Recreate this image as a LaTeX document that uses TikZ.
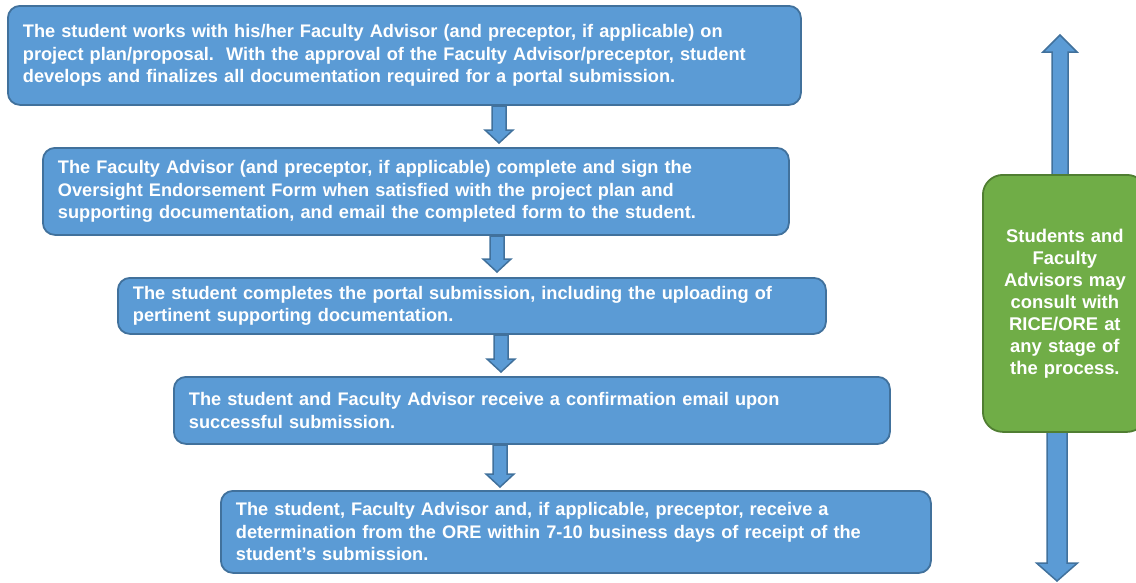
\documentclass[tikz,border=0pt]{standalone}
\usepackage{fontspec}
\setmainfont{Liberation Sans}
\definecolor{boxblue}{HTML}{5B9BD5}
\definecolor{edgeblue}{HTML}{41719C}
\definecolor{boxgreen}{HTML}{70AD47}
\definecolor{edgegreen}{HTML}{507E32}
\newcommand\blockarrow[6]{%
  \draw[arrowshape] ({#1-#4},#2) -- ({#1+#4},#2) -- ({#1+#4},{#3-#6}) -- ({#1+#5},{#3-#6}) -- (#1,#3) -- ({#1-#5},{#3-#6}) -- ({#1-#4},{#3-#6}) -- cycle;}
\tikzset{
  stepbox/.style={draw=edgeblue, fill=boxblue, line width=1.8pt, rounded corners=12pt,
    anchor=north west, inner xsep=14pt, inner ysep=0pt, align=left, text=white,
    font=\fontsize{18.2}{22.5}\selectfont\bfseries},
  sidebox/.style={draw=edgegreen, fill=boxgreen, line width=1.8pt, rounded corners=20pt,
    anchor=north west, inner sep=0pt, align=center, text=white,
    font=\fontsize{18.4}{22}\selectfont\bfseries},
  arrowshape/.style={draw=edgeblue, fill=boxblue, line width=1.5pt, line join=miter}
}
\begin{document}
\begin{tikzpicture}[x=1pt,y=-1pt]
\useasboundingbox (0,0) rectangle (1136,582);
% vertical side arrows
\blockarrow{1060}{175}{35}{8}{17}{-17}
\blockarrow{1057}{430}{581}{10}{20.5}{18}
\node[stepbox, minimum width=793, minimum height=99, text width=763] (b1) at (7,5)
 {The student works with his/her Faculty Advisor (and preceptor, if applicable) on\\
  project plan/proposal.\ \ With the approval of the Faculty Advisor/preceptor, student\\
  develops and finalizes all documentation required for a portal submission.};
\node[stepbox, minimum width=746, minimum height=87, text width=716] (b2) at (42,147)
 {The Faculty Advisor (and preceptor, if applicable) complete and sign the\\
  Oversight Endorsement Form when satisfied with the project plan and\\
  supporting documentation, and email the completed form to the student.};
\node[stepbox, minimum width=708, minimum height=56, text width=678] (b3) at (117,277)
 {The student completes the portal submission, including the uploading of\\
  pertinent supporting documentation.};
\node[stepbox, minimum width=716, minimum height=67, text width=686] (b4) at (173,376)
 {The student and Faculty Advisor receive a confirmation email upon\\
  successful submission.};
\node[stepbox, minimum width=710, minimum height=82, text width=680] (b5) at (220,490)
 {The student, Faculty Advisor and, if applicable, preceptor, receive a\\
  determination from the ORE within 7-10 business days of receipt of the\\
  student’s submission.};
\node[sidebox, minimum width=164, minimum height=257, text width=164] (g) at (982,174)
 {Students and\\ Faculty\\ Advisors may\\ consult with\\ RICE/ORE at\\ any stage of\\ the process.};
% down arrows between steps
\blockarrow{499}{106}{143}{7}{14}{13}
\blockarrow{497}{236}{272}{7}{14}{13}
\blockarrow{501}{335}{372}{7}{14}{13}
\blockarrow{500}{445}{487}{7}{14}{13}
\end{tikzpicture}
\end{document}
